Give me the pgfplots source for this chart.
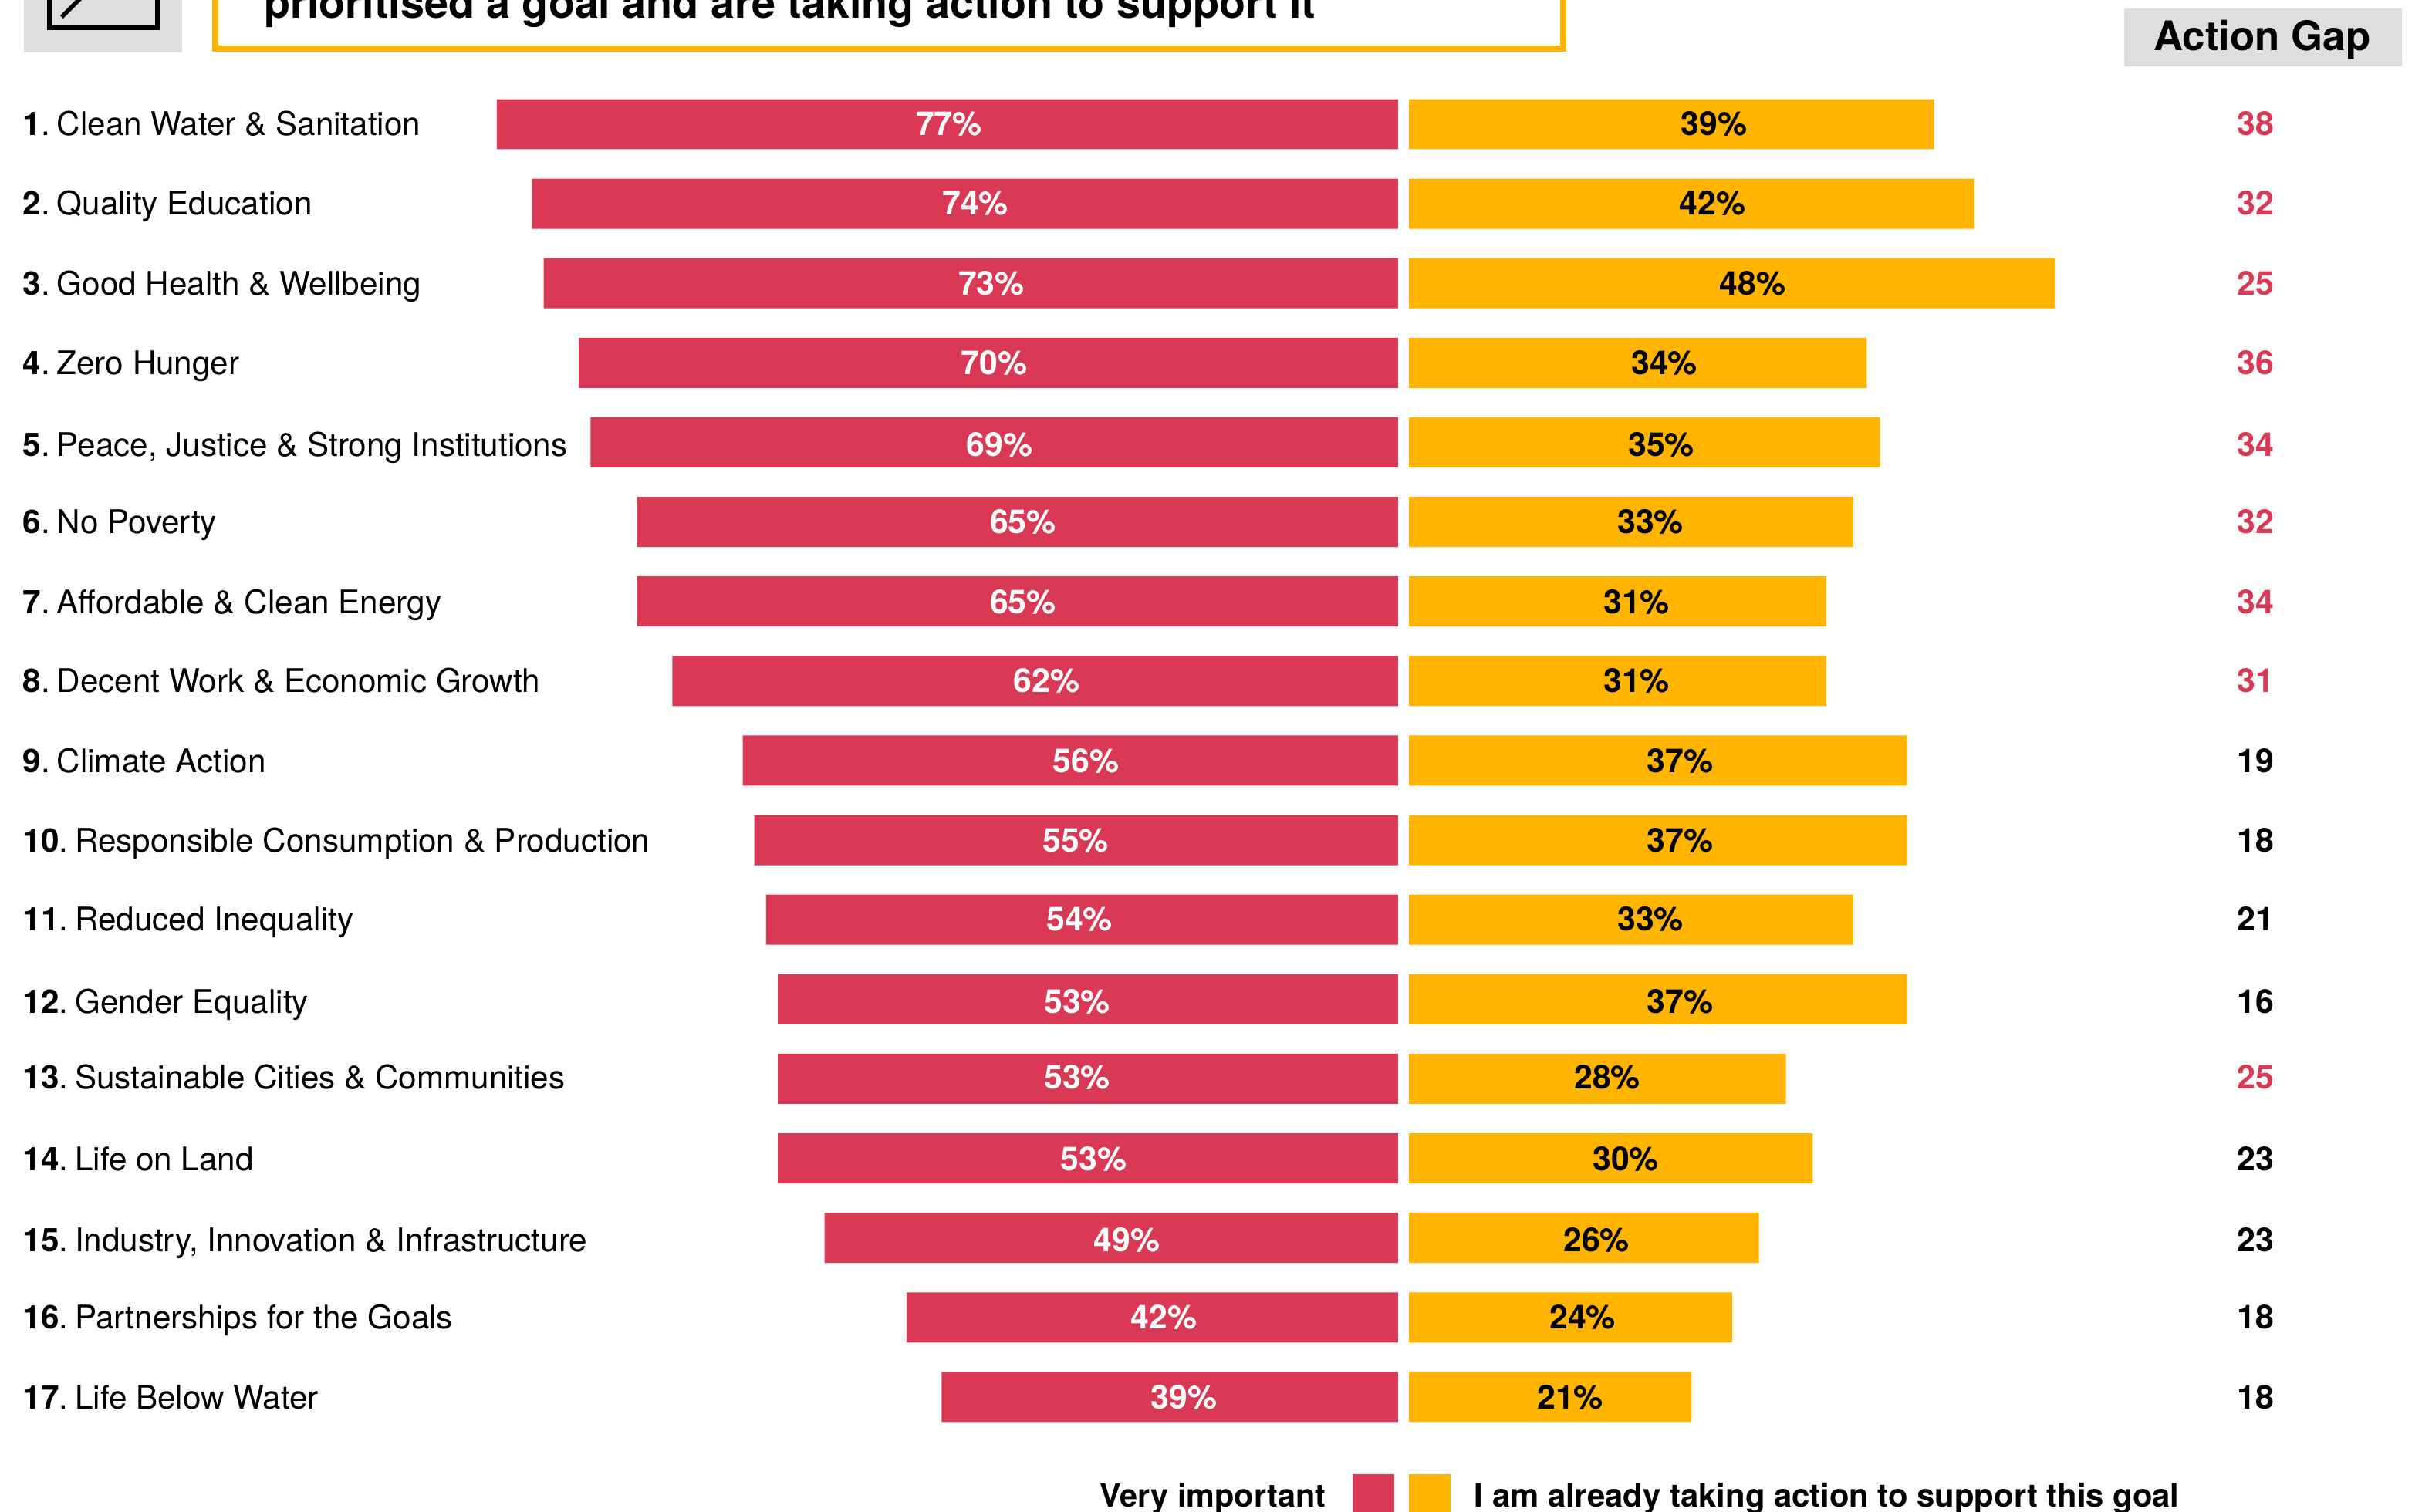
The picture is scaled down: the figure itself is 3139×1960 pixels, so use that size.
\documentclass[border=0pt]{standalone}
\usepackage{pgfplots}
\pgfplotsset{compat=1.18}
\usepackage{pgfplotstable}
\usepackage{fontspec}
\setmainfont{TeX Gyre Heros}
\definecolor{goalred}{HTML}{D93954}
\definecolor{goalamber}{HTML}{FFB400}
\definecolor{panelgrey}{HTML}{DEDEDE}

% row: goal rank; imp: very important (%); act: already taking action (%);
% ly: height of the row's text; lximp, lxact: where the value label stands along each bar
\pgfplotstableread{
row ly imp act lximp lxact
1  0.995  77 39 38.37 22.65
2  1.997  74 42 36.12 22.54
3  3.000  73 48 34.74 25.52
4  4.000  70 34 34.49 18.98
5  5.029  69 35 34.06 18.75
6  6.004  65 33 32.04 17.95
7  7.008  65 31 32.04 16.91
8  8.000  62 31 30.01 16.91
9  9.008  56 37 26.66 20.13
10 10.008 55 37 27.55 20.13
11 10.992 54 33 27.22 17.95
12 12.027 53 37 27.42 20.13
13 12.981 53 28 27.42 14.74
14 14.008 53 30 26.00 16.11
15 15.023 49 26 23.15 13.93
16 15.996 42 24 19.99 12.90
17 17.004 39 21 18.28 11.98
}\goals

% action gap, split by the colour it is printed in
\pgfplotstableread{
ly gap gx
0.995  38 62.87
1.997  32 62.87
3.000  25 62.87
4.000  36 62.87
5.029  34 62.87
6.004  32 62.87
7.008  34 62.87
8.000  31 62.87
12.981 25 62.87
}\widegaps
\pgfplotstableread{
ly gap gx
9.008  19 62.87
10.008 18 62.87
10.992 21 62.87
12.027 16 62.87
14.008 23 62.87
15.023 23 62.87
15.996 18 62.87
17.004 18 62.87
}\narrowgaps

\newcommand{\rowlabel}[2]{\textbf{#1}.\hspace{2.2pt}#2}

\pgfplotsset{
  goalbars/.style={
    scale only axis, height=438.25pt,
    ymin=0.5, ymax=17.5, y dir=reverse, xmin=0,
    axis line style={draw=none}, major tick length=0pt,
    xtick=\empty, clip=false,
  },
  valuelabel/.style={
    draw=none, mark=none,
    nodes near coords={\pgfplotspointmeta\%},
    nodes near coords align=center,
    point meta=explicit symbolic,
    every node near coord/.append style={anchor=base, yshift=-3.75pt},
  },
}

\begin{document}
\begin{tikzpicture}[x=0.25pt,y=-0.25pt]
\path[use as bounding box, clip] (0,0) rectangle (3139,1960);

% header: icon, statement box, column heading
\fill[panelgrey] (31,-10) rectangle (236,68);
\draw[line width=1.5pt] (64,-10) -- (64,36) -- (204,36) -- (204,-10);
\draw[line width=1.4pt] (106,-4) -- (80,22);
\draw[goalamber, line width=2pt] (279,-20) rectangle (2026,63);
\node[anchor=base west, font=\bfseries\fontsize{13.92}{16}\selectfont, inner sep=0pt] at (342,23)
  {prioritised a goal and are taking action to support it};
\fill[panelgrey] (2753,11) rectangle (3113,86);
\node[anchor=base, font=\bfseries\fontsize{13.2}{16}\selectfont, inner sep=0pt] at (2932,65) {Action Gap};

\coordinate (leftorigin) at (29,1862.4);
\coordinate (rightorigin) at (1826,1862.4);

% very important, bars growing leftwards, with the goal names on the left
\begin{axis}[goalbars, at={(leftorigin)}, anchor=south west,
    width=445.75pt, xmax=117.54, x dir=reverse,
    ytick={0.995,1.997,3,4,5.029,6.004,7.008,8,9.008,10.008,10.992,12.027,12.981,14.008,15.023,15.996,17.004},
    yticklabels={
      \rowlabel{1}{Clean Water \& Sanitation},
      \rowlabel{2}{Quality Education},
      \rowlabel{3}{Good Health \& Wellbeing},
      \rowlabel{4}{Zero Hunger},
      \rowlabel{5}{Peace, Justice \& Strong Institutions},
      \rowlabel{6}{No Poverty},
      \rowlabel{7}{Affordable \& Clean Energy},
      \rowlabel{8}{Decent Work \& Economic Growth},
      \rowlabel{9}{Climate Action},
      \rowlabel{10}{Responsible Consumption \& Production},
      \rowlabel{11}{Reduced Inequality},
      \rowlabel{12}{Gender Equality},
      \rowlabel{13}{Sustainable Cities \& Communities},
      \rowlabel{14}{Life on Land},
      \rowlabel{15}{Industry, Innovation \& Infrastructure},
      \rowlabel{16}{Partnerships for the Goals},
      \rowlabel{17}{Life Below Water}},
    yticklabel style={anchor=base west, inner sep=0pt, yshift=-3.75pt,
      font=\fontsize{10.55}{12}\selectfont},
    nodes near coords style={text=white, font=\bfseries\fontsize{10.7}{12}\selectfont},
  ]
  \addplot[xbar, bar width=0.63, fill=goalred, draw=none, bar shift=0pt]
    table[x=imp, y=row] {\goals};
  \addplot[valuelabel] table[x=lximp, y=ly, meta=imp] {\goals};
\end{axis}

% already taking action, bars growing rightwards, and the gap column
\begin{axis}[goalbars, at={(rightorigin)}, anchor=south west,
    width=328.25pt, xmax=75.25,
    ytick=\empty,
    nodes near coords style={font=\bfseries\fontsize{10.7}{12}\selectfont},
  ]
  \addplot[xbar, bar width=0.63, fill=goalamber, draw=none, bar shift=0pt]
    table[x=act, y=row] {\goals};
  \addplot[valuelabel] table[x=lxact, y=ly, meta=act] {\goals};
  \addplot[valuelabel, nodes near coords={\pgfplotspointmeta},
    nodes near coords style={text=goalred}]
    table[x=gx, y=ly, meta=gap] {\widegaps};
  \addplot[valuelabel, nodes near coords={\pgfplotspointmeta},
    nodes near coords style={text=black}]
    table[x=gx, y=ly, meta=gap] {\narrowgaps};
\end{axis}

% key at the foot
\fill[goalred] (1753,1911) rectangle (1807,1970);
\fill[goalamber] (1825.5,1911) rectangle (1880,1970);
\node[anchor=base east, font=\bfseries\fontsize{10.35}{12}\selectfont, inner sep=0pt] at (1719,1953) {Very important};
\node[anchor=base west, font=\bfseries\fontsize{10.45}{12}\selectfont, inner sep=0pt] at (1910,1953) {I am already taking action to support this goal};
\end{tikzpicture}
\end{document}
